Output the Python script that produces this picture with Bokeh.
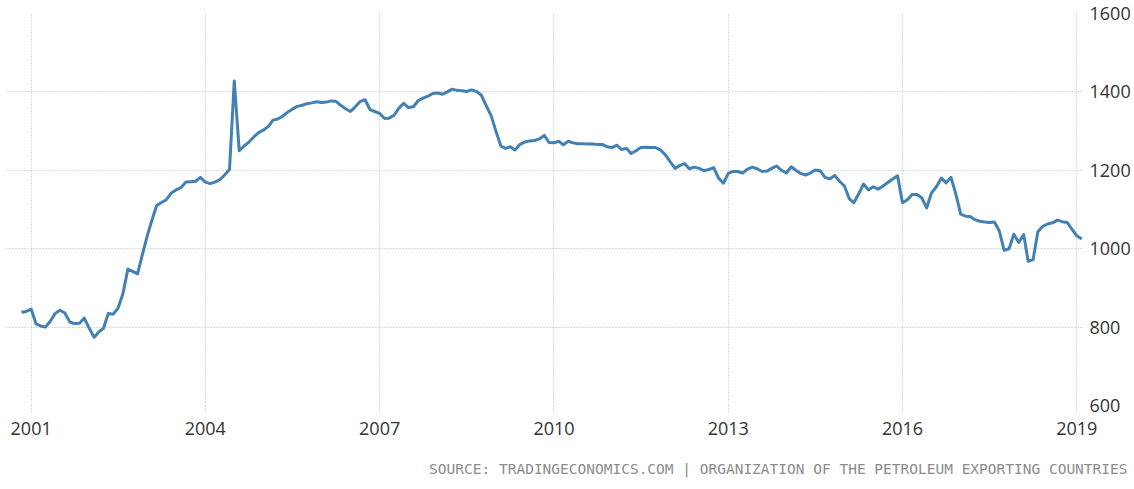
import datetime as dt
import pandas as pd
from bokeh.plotting import figure
from bokeh.models import (Range1d, FixedTicker, DatetimeTickFormatter, Title)
from bokeh.embed import file_html
from bokeh.resources import INLINE

# ---- data (monthly, thousand barrels/day) ----
start_month = "2000-11-01"
v2000 = [838, 840]
v2001 = [846, 808, 803, 800, 815, 835, 843, 836, 813, 809, 810, 823]
v2002 = [797, 774, 787, 797, 835, 833, 848, 885, 948, 942, 936, 985]
v2003 = [1033, 1075, 1110, 1118, 1125, 1142, 1150, 1156, 1170, 1171, 1172, 1182]
v2004 = [1170, 1166, 1170, 1176, 1188, 1202, 1428, 1250, 1262, 1272, 1285, 1296]
v2005 = [1303, 1312, 1328, 1331, 1338, 1348, 1356, 1363, 1366, 1370, 1372, 1375]
v2006 = [1373, 1374, 1377, 1376, 1366, 1357, 1350, 1362, 1376, 1380, 1355, 1350]
v2007 = [1345, 1332, 1333, 1340, 1358, 1371, 1360, 1362, 1378, 1384, 1389, 1396]
v2008 = [1397, 1394, 1400, 1407, 1404, 1403, 1401, 1405, 1401, 1392, 1365, 1340]
v2009 = [1300, 1262, 1256, 1260, 1252, 1266, 1272, 1275, 1276, 1280, 1289, 1271]
v2010 = [1270, 1274, 1265, 1274, 1270, 1268, 1268, 1267, 1267, 1266, 1266, 1260]
v2011 = [1258, 1264, 1253, 1256, 1243, 1250, 1258, 1259, 1258, 1258, 1252, 1240]
v2012 = [1222, 1205, 1212, 1217, 1204, 1208, 1205, 1199, 1202, 1207, 1180, 1167]
v2013 = [1192, 1197, 1197, 1193, 1203, 1208, 1204, 1197, 1198, 1205, 1211, 1200]
v2014 = [1193, 1209, 1200, 1192, 1188, 1193, 1201, 1199, 1182, 1178, 1187, 1172]
v2015 = [1160, 1127, 1117, 1140, 1165, 1150, 1158, 1152, 1160, 1169, 1178, 1186]
v2016 = [1117, 1125, 1138, 1138, 1130, 1104, 1142, 1158, 1180, 1168, 1182, 1140]
v2017 = [1088, 1083, 1082, 1074, 1070, 1068, 1067, 1068, 1045, 996, 1000, 1037]
v2018 = [1016, 1036, 968, 972, 1043, 1057, 1063, 1066, 1073, 1069, 1067, 1050]
v2019 = [1033, 1025]

tick_years = [2001, 2004, 2007, 2010, 2013, 2016, 2019]
y_ticks = [600, 800, 1000, 1200, 1400, 1600]
source_text = "SOURCE: TRADINGECONOMICS.COM | ORGANIZATION OF THE PETROLEUM EXPORTING COUNTRIES"

values = (v2000 + v2001 + v2002 + v2003 + v2004 + v2005 + v2006 + v2007 + v2008
          + v2009 + v2010 + v2011 + v2012 + v2013 + v2014 + v2015 + v2016 + v2017
          + v2018 + v2019)
dates = pd.date_range(start_month, periods=len(values), freq="MS")

FONT = "Open Sans"
GRID = "#b9b9b9"

p = figure(x_axis_type="datetime", y_axis_location="right",
           frame_width=1077, frame_height=392,
           x_range=Range1d(dt.datetime(2000, 7, 30), dt.datetime(2019, 2, 12)),
           y_range=Range1d(600, 1600),
           output_backend="svg", toolbar_location=None, tools="")
p.min_border_left = 6
p.min_border_top = 13
p.min_border_bottom = 2
p.min_border_right = 0
p.outline_line_color = None
p.background_fill_color = "white"
p.border_fill_color = "white"

p.line(dates, values, line_color="#4380b3", line_width=3, line_join="round")

# x axis
tick_ms = [dt.datetime(y, 1, 1).timestamp() * 1000 for y in tick_years]
p.xaxis.ticker = FixedTicker(ticks=tick_ms)
p.xaxis.formatter = DatetimeTickFormatter(years="%Y", months="%Y", days="%Y",
                                          hours="%Y", minutes="%Y", seconds="%Y")
p.xaxis.axis_line_color = None
p.xaxis.major_tick_out = 7
p.xaxis.major_tick_in = 0
p.xaxis.major_tick_line_color = GRID
p.xaxis.major_tick_line_dash = "1 2"
p.xaxis.minor_tick_line_color = None
p.xaxis.major_label_standoff = 9
p.xaxis.major_label_text_font = FONT
p.xaxis.major_label_text_font_size = "18px"
p.xaxis.major_label_text_color = "#333333"

# y axis (right)
p.yaxis.ticker = FixedTicker(ticks=y_ticks)
p.yaxis.axis_line_color = None
p.yaxis.major_tick_line_color = None
p.yaxis.minor_tick_line_color = None
p.yaxis.major_tick_out = 0
p.yaxis.major_label_standoff = 6
p.yaxis.major_label_text_font = FONT
p.yaxis.major_label_text_font_size = "18px"
p.yaxis.major_label_text_color = "#333333"

# grids
for g in (p.xgrid, p.ygrid):
    g.grid_line_color = GRID
    g.grid_line_dash = "1 2"
    g.grid_line_width = 1
p.xgrid.ticker = p.xaxis.ticker
p.ygrid.ticker = p.yaxis.ticker

src = Title(text=source_text, align="right", text_font="DejaVu Sans Mono",
            text_font_size="14.5px", text_font_style="normal",
            text_color="#8c8c8c", standoff=43, offset=-44)
p.add_layout(src, "below")

open("out.html", "w").write(file_html(p, INLINE))
